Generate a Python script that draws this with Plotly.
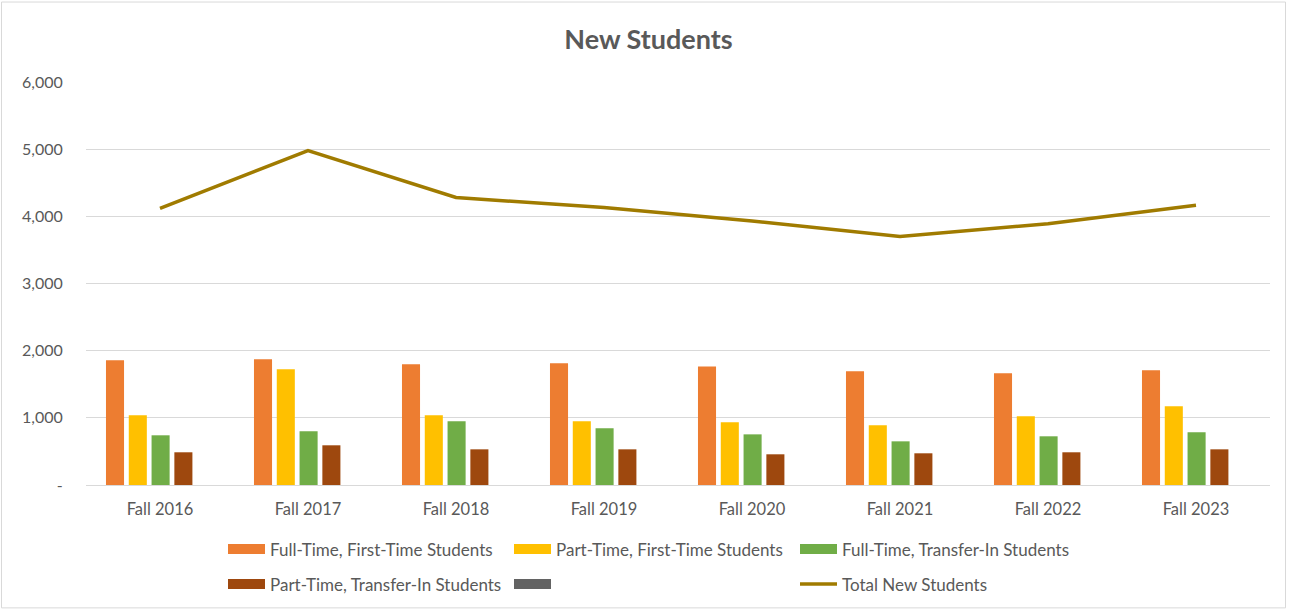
import plotly.graph_objects as go

years = ['Fall 2016', 'Fall 2017', 'Fall 2018', 'Fall 2019',
         'Fall 2020', 'Fall 2021', 'Fall 2022', 'Fall 2023']

ft_first = [1856, 1871, 1796, 1811, 1766, 1692, 1662, 1707]
pt_first = [1037, 1722, 1037, 948, 933, 888, 1022, 1171]
ft_transfer = [740, 799, 948, 844, 754, 650, 725, 784]
pt_transfer = [487, 591, 531, 531, 457, 472, 487, 531]
total_new = [4120, 4980, 4280, 4130, 3930, 3700, 3890, 4165]

y_ticks = [0, 1000, 2000, 3000, 4000, 5000, 6000]
y_tick_text = ['-', '1,000', '2,000', '3,000', '4,000', '5,000', '6,000']

FONT = 'Lato'
GREY_TEXT = '#595959'
GRID = '#d9d9d9'

# plot area in px (used to place legends/border)
L, R, T, B = 86, 19, 81.5, 124.4
PW = 1289 - L - R
PH = 609 - T - B

bar_w = 0.122
pitch = 0.154
first_off = -0.365

series = [
    ('Full-Time, First-Time Students', ft_first, '#ED7D31', 'legend'),
    ('Part-Time, First-Time Students', pt_first, '#FFC000', 'legend'),
    ('Full-Time, Transfer-In Students', ft_transfer, '#70AD47', 'legend'),
    ('Part-Time, Transfer-In Students', pt_transfer, '#9E480E', 'legend2'),
    (' ', [None] * len(years), '#636363', 'legend2'),
]

fig = go.Figure()

for i, (name, vals, color, leg) in enumerate(series):
    fig.add_trace(go.Bar(
        x=years, y=vals, name=name,
        marker=dict(color=color, line=dict(width=0)),
        width=bar_w, offset=first_off + i * pitch,
        showlegend=False,
    ))
    # wide flat swatch for the legend, like the excel one
    fig.add_trace(go.Scatter(
        x=[None], y=[None], name=name, mode='lines',
        line=dict(color=color, width=11),
        legend=leg, showlegend=True, hoverinfo='skip',
    ))

fig.add_trace(go.Scatter(
    x=years, y=total_new, name='Total New Students', mode='lines',
    line=dict(color='#A07B00', width=3.5),
    legend='legend2',
))


def px_x(px):
    return (px - L) / PW


def px_y(py):
    return (609 - B - py) / PH


legend_common = dict(
    orientation='h', entrywidth=234, entrywidthmode='pixels', itemwidth=37,
    font=dict(family=FONT, size=17, color=GREY_TEXT),
    xanchor='left', yanchor='middle', bgcolor='rgba(0,0,0,0)',
    itemclick=False, itemdoubleclick=False,
)

fig.update_layout(
    width=1289, height=609,
    margin=dict(l=L, r=R, t=T, b=B, autoexpand=False),
    paper_bgcolor='white', plot_bgcolor='white',
    barmode='overlay',
    font=dict(family=FONT, size=16, color=GREY_TEXT),
    title=dict(text='<b>New Students</b>', x=648.5 / 1289, xref='container', xanchor='center',
               y=1 - 40 / 609, yref='container', yanchor='middle',
               font=dict(family=FONT, size=27, color=GREY_TEXT)),
    legend=dict(x=px_x(223), y=px_y(549), **legend_common),
    legend2=dict(x=px_x(223), y=px_y(584), **legend_common),
    xaxis=dict(
        showline=True, linecolor=GRID, linewidth=1, showgrid=False,
        ticks='outside', ticklen=9, tickcolor='rgba(0,0,0,0)',
        tickfont=dict(family=FONT, size=16.5, color=GREY_TEXT),
        fixedrange=True,
    ),
    yaxis=dict(
        range=[0, 6000], tickvals=y_ticks, ticktext=y_tick_text,
        showgrid=True, gridcolor=GRID, gridwidth=1, zeroline=False, showline=False,
        ticks='outside', ticklen=19, tickcolor='rgba(0,0,0,0)',
        tickfont=dict(family=FONT, size=16, color=GREY_TEXT),
        fixedrange=True,
    ),
    shapes=[dict(
        type='rect', xref='paper', yref='paper', layer='below',
        x0=px_x(1.5), x1=px_x(1285.5), y0=px_y(607.5), y1=px_y(1.5),
        line=dict(color=GRID, width=1), fillcolor='rgba(0,0,0,0)',
    )],
)

fig.write_html('out.html', config={'displayModeBar': False},
               post_script="document.body.style.margin='0';")
